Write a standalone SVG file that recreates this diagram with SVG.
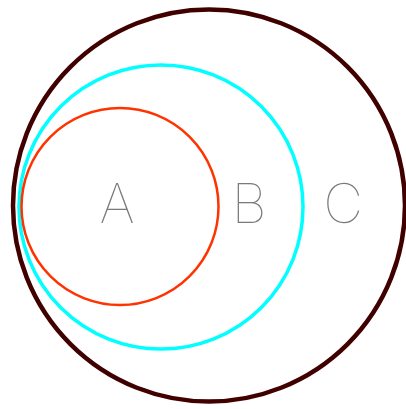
<svg xmlns="http://www.w3.org/2000/svg" width="406" height="409" viewBox="0 0 406 409">
<style>
.lbl{font-family:"Inter","Lato","Roboto","Liberation Sans",sans-serif;font-weight:100;font-size:55px;fill:#7a7a7a;text-anchor:middle}
.c{fill:none}
</style>
<rect width="406" height="409" fill="#ffffff"/>
<g id="C">
<circle class="c" cx="209" cy="205.5" r="196" stroke="#400000" stroke-width="4.5"/>
<text class="lbl" x="343" y="223">C</text>
</g>
<g id="B">
<circle class="c" cx="161" cy="207" r="142" stroke="#00ffff" stroke-width="3.5"/>
<text class="lbl" x="249" y="223">B</text>
</g>
<g id="A">
<circle class="c" cx="120" cy="206.5" r="98.5" stroke="#ff3300" stroke-width="2.5"/>
<text class="lbl" x="117" y="223">A</text>
</g>
<g id="connectors"/>
</svg>
